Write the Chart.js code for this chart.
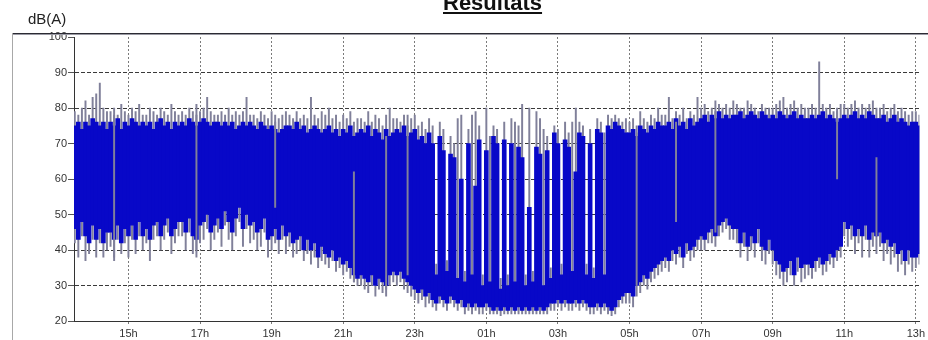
<!DOCTYPE html>
<html>
<head>
<meta charset="utf-8">
<script src="https://cdn.jsdelivr.net/npm/chart.js@4/dist/chart.umd.min.js"></script>
<style>
  html, body { margin: 0; padding: 0; background: #fff; }
  #wrap { position: relative; width: 928px; height: 340px; overflow: hidden;
          font-family: 'Liberation Sans', Arial, sans-serif; }
  #title { position: absolute; left: 443px; top: -8px; line-height: 22px;
           font-size: 22px; font-weight: bold; text-decoration: underline; color: #111; }
  #unit { position: absolute; left: 28px; top: 10px; font-size: 15px; line-height: 17px; color: #222; }
  #frameTop { position: absolute; left: 12px; top: 33px; width: 916px; height: 1px;
              background: #2b2b33; border-bottom: 1px solid #9a9aa4; }
  #frameLeft { position: absolute; left: 12px; top: 33px; width: 1px; height: 307px; background: #a8a8a8; }
  #box { position: absolute; left: 0; top: 0; width: 928px; height: 340px; }
</style>
</head>
<body>
<div id="wrap">
  <div id="box"><canvas id="chart"></canvas></div>
  <div id="frameTop"></div>
  <div id="frameLeft"></div>
  <div id="title">Résultats</div>
  <div id="unit">dB(A)</div>
</div>
<script>
/* eslint-env browser */

// ------------------------
// Data
// ------------------------

// one sample every 6 minutes, starting at 13h30
const startHour = 13.5
const stepHour = 0.1

// hours past midnight of the first day, 25 = 01h next day
const tickHours = [15, 17, 19, 21, 23, 25, 27, 29, 31, 33, 35, 37]
const tickLabels = ['15h', '17h', '19h', '21h', '23h', '01h', '03h', '05h', '07h', '09h', '11h', '13h']

// top of the blue band, dB(A)
const levelHigh = [
  75, 76, 74, 76, 75, 77, 76, 75, 76, 74,
  76, 75, 77, 74, 76, 75, 77, 76, 75, 76,
  75, 76, 74, 76, 77, 75, 76, 74, 76, 75,
  76, 75, 77, 76, 75, 76, 77, 76, 75, 76,
  76, 75, 76, 75, 76, 74, 75, 76, 75, 76,
  75, 74, 76, 75, 74, 75, 74, 73, 74, 75,
  75, 74, 76, 74, 75, 73, 74, 75, 74, 73,
  74, 75, 73, 74, 72, 74, 73, 75, 72, 73,
  74, 73, 75, 72, 74, 73, 71, 74, 72, 73,
  74, 73, 75, 72, 73, 74, 71, 72, 70, 73,
  // night
  70, 33, 72, 68, 34, 67, 66, 32, 60, 31,
  70, 33, 58, 71, 30, 68, 31, 72, 70, 29,
  71, 30, 70, 31, 69, 66, 30, 52, 31, 69,
  67, 30, 68, 32, 73, 70, 33, 71, 69, 34,
  62, 73, 72, 33, 70, 32, 74, 73, 33, 75,
  74, 76, 75, 74, 73,
  // 05h
  73, 74, 72, 75, 74, 73, 75, 74, 76, 75,
  75, 76, 74, 77, 75, 76, 74, 77, 75, 76,
  77, 78, 76, 78, 77, 79, 77, 78, 77, 78,
  78, 79, 77, 78, 79, 78, 77, 79, 78, 77,
  78, 77, 79, 78, 77, 78, 79, 77, 78, 77,
  77, 78, 77, 78, 79, 77, 78, 77, 76, 77,
  78, 77, 78, 79, 77, 78, 77, 79, 78, 77,
  77, 78, 76, 77, 78, 76, 77, 76, 75, 76,
  76, 75
]

// bottom of the blue band
const levelLow = [
  46, 43, 48, 44, 42, 47, 43, 46, 42, 45,
  45, 43, 47, 42, 46, 44, 47, 43, 48, 44,
  46, 43, 47, 48, 44, 47, 49, 44, 46, 48,
  48, 45, 49, 44, 43, 47, 48, 50, 45, 47,
  49, 46, 51, 48, 45, 49, 52, 46, 50, 47,
  48, 45, 46, 49, 43, 44, 46, 43, 47, 44,
  45, 42, 43, 44, 40, 43, 40, 42, 38, 41,
  39, 38, 40, 37, 38, 36, 37, 35, 33, 32,
  33, 32, 31, 33, 30, 32, 31, 30, 33, 34,
  33, 34, 32, 31, 30, 29, 28, 29, 27, 28,
  // night
  26, 25, 27, 26, 25, 27, 26, 25, 26, 24,
  25, 24, 25, 24, 24, 25, 24, 23, 24, 23,
  24, 23, 24, 23, 24, 23, 24, 23, 24, 23,
  24, 23, 24, 25, 25, 26, 25, 26, 25, 25,
  26, 25, 26, 25, 24, 24, 25, 24, 25, 24,
  23, 24, 26, 27, 28,
  // 05h
  28, 27, 30, 31, 33, 32, 34, 35, 36, 37,
  38, 37, 40, 39, 41, 38, 42, 40, 41, 43,
  44, 43, 45, 46, 44, 47, 48, 49, 47, 46,
  46, 42, 45, 41, 44, 42, 46, 41, 40, 43,
  40, 37, 36, 34, 35, 37, 33, 38, 35, 36,
  36, 35, 37, 38, 36, 37, 39, 38, 40, 41,
  48, 46, 47, 44, 46, 44, 47, 43, 45, 44,
  45, 42, 43, 41, 42, 39, 40, 37, 40, 38,
  38, 39
]

// grey peaks above the band
const peakHigh = [
  79, 78, 80, 82, 78, 83, 84, 87, 80, 79,
  79, 80, 78, 81, 79, 78, 80, 79, 81, 78,
  78, 80, 79, 78, 80, 79, 78, 81, 79, 78,
  79, 78, 80, 79, 81, 79, 80, 83, 79, 78,
  78, 79, 78, 80, 78, 79, 78, 79, 83, 78,
  78, 77, 79, 78, 77, 79, 78, 77, 78, 79,
  78, 77, 79, 77, 78, 77, 83, 78, 77, 79,
  78, 80, 77, 78, 76, 78, 77, 79, 76, 77,
  77, 76, 79, 76, 78, 77, 75, 78, 80, 77,
  77, 76, 78, 75, 77, 78, 75, 76, 74, 77,
  // night
  75, 36, 76, 74, 37, 72, 70, 77, 78, 34,
  74, 78, 79, 75, 33, 80, 72, 75, 74, 32,
  76, 33, 77, 76, 75, 81, 33, 80, 34, 79,
  77, 74, 72, 35, 75, 74, 36, 76, 73, 76,
  80, 76, 75, 36, 74, 35, 77, 76, 73, 78,
  77, 78, 77, 76, 77,
  // 05h
  76, 77, 75, 79, 77, 76, 78, 77, 80, 78,
  78, 83, 77, 79, 78, 80, 77, 79, 78, 83,
  80, 81, 79, 80, 82, 81, 80, 81, 80, 82,
  81, 80, 80, 82, 81, 80, 79, 81, 80, 80,
  80, 81, 82, 83, 80, 81, 82, 80, 81, 80,
  80, 81, 80, 93, 81, 80, 81, 79, 80, 81,
  81, 80, 81, 82, 80, 81, 80, 81, 82, 80,
  80, 81, 79, 80, 81, 79, 80, 79, 78, 79,
  79, 78
]

// grey peaks below the band
const peakLow = [
  42, 38, 44, 37, 39, 43, 38, 42, 38, 40,
  41, 37, 43, 39, 42, 38, 43, 39, 44, 40,
  42, 37, 43, 44, 40, 43, 45, 39, 42, 44,
  44, 40, 45, 39, 38, 42, 43, 46, 40, 43,
  45, 41, 47, 43, 40, 44, 48, 41, 46, 42,
  43, 40, 41, 45, 38, 40, 42, 39, 43, 39,
  41, 38, 39, 40, 37, 39, 36, 38, 35, 37,
  36, 35, 37, 34, 35, 33, 34, 32, 31, 30,
  30, 29, 28, 30, 27, 29, 28, 27, 30, 31,
  30, 31, 29, 28, 27, 26, 25, 26, 24, 25,
  // night
  24, 23, 25, 24, 23, 25, 24, 23, 24, 22,
  23, 22, 23, 22, 22, 23, 22, 22, 22, 21.5,
  22, 22, 22, 22, 22, 22, 22, 22, 22, 22,
  22, 22, 22, 23, 23, 24, 23, 24, 23, 23,
  24, 23, 24, 23, 22, 22, 23, 22, 23, 22,
  21.5, 22, 24, 25, 25,
  // 05h
  25, 24, 27, 28, 30, 29, 31, 32, 33, 34,
  35, 34, 37, 36, 38, 35, 39, 37, 38, 40,
  40, 40, 42, 42, 41, 44, 45, 46, 43, 43,
  42, 38, 41, 37, 40, 38, 42, 37, 36, 39,
  36, 33, 32, 30, 31, 33, 30, 34, 31, 32,
  33, 32, 34, 35, 33, 34, 36, 35, 37, 38,
  44, 41, 43, 39, 42, 38, 43, 38, 41, 39,
  41, 37, 39, 36, 38, 34, 36, 33, 36, 34,
  35, 36
]

// isolated grey strokes drawn over the band
const dropIndex = [11, 34, 56, 78, 87, 93, 157, 168, 179, 213, 224]
const dropLow = [38, 40, 52, 31, 29, 33, 30, 48, 45, 60, 44]
const dropHigh = [78, 78, 76, 62, 72, 78, 73, 76, 79, 79, 66]

// ------------------------
// Helpers
// ------------------------

const blue = '#0808c8'
const grey = '#80809a'

const sampleHours = levelHigh.map((_v, i) => startHour + i * stepHour)
const toBars = (lo, hi) => sampleHours.map((x, i) => ({ x, y: [lo[i], hi[i]] }))
const drops = dropIndex.map((k, j) => ({ x: sampleHours[k], y: [dropLow[j], dropHigh[j]] }))

// ------------------------
// Chart
// ------------------------

Chart.defaults.font.family = "'Liberation Sans', Arial, sans-serif"

// eslint-disable-next-line no-new
new Chart(document.querySelector('#chart'), {
  type: 'bar',

  data: {
    datasets: [
      {
        label: 'Crêtes',
        data: toBars(peakLow, peakHigh),
        backgroundColor: grey,
        barThickness: 1.3,
        grouped: false,
        order: 2,
      },
      {
        label: 'Niveau',
        data: toBars(levelLow, levelHigh),
        backgroundColor: blue,
        barThickness: 4,
        grouped: false,
        order: 1,
      },
      {
        label: 'Pics',
        data: drops,
        backgroundColor: grey,
        barThickness: 1.3,
        grouped: false,
        order: 0,
      },
    ],
  },

  options: {
    responsive: true,
    maintainAspectRatio: false,
    animation: false,

    layout: { padding: { top: 37, left: 0, right: 0, bottom: 0 } },

    plugins: {
      legend: { display: false },
      tooltip: { enabled: false },
    },

    scales: {
      x: {
        type: 'linear',
        min: 13.479,
        max: 37.1,
        offset: false,
        z: 1,
        afterFit: (scale) => { scale.height = 19 },
        afterBuildTicks: (scale) => { scale.ticks = tickHours.map((value) => ({ value })) },
        ticks: {
          autoSkip: false,
          maxRotation: 0,
          padding: 3,
          color: '#333',
          font: { size: 11 },
          callback: (v) => tickLabels[tickHours.indexOf(v)],
        },
        grid: { offset: false, color: '#7a7a7a', tickLength: 3, tickColor: '#7a7a7a', tickBorderDash: [] },
        border: { color: '#333', dash: [2, 2] },
      },
      y: {
        min: 20,
        max: 100,
        z: 1,
        afterFit: (scale) => { scale.width = 74 },
        ticks: { stepSize: 10, padding: 1, color: '#333', font: { size: 11 } },
        grid: {
          color: (c) => (c.tick.value === 100 || c.tick.value === 20 ? 'rgba(0,0,0,0)' : '#3a3a3a'),
          tickLength: 6,
          tickColor: '#555',
          tickBorderDash: [],
        },
        border: { color: '#333', dash: [4, 2] },
      },
    },
  },
})
</script>
</body>
</html>
